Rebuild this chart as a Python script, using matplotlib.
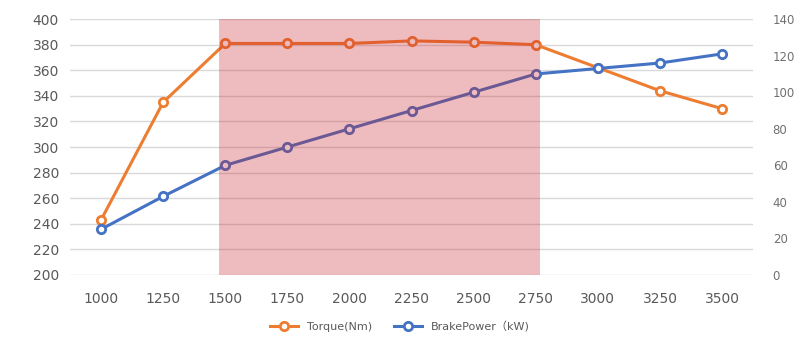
import numpy as np
import matplotlib.pyplot as plt

plt.rcParams['font.family'] = ['DejaVu Sans', 'Noto Sans CJK SC']

rpm = ['1000', '1250', '1500', '1750', '2000', '2250', '2500', '2750', '3000', '3250', '3500']
torque = [243, 335, 381, 381, 381, 383, 382, 380, 362, 344, 330]
power = [25, 43, 60, 70, 80, 90, 100, 110, 113, 116, 121]

orange = '#ED7D31'
blue = '#4472C4'
tick_col = '#595959'

fig = plt.figure(figsize=(8, 3.42), dpi=100)
ax = fig.add_axes([0.0875, 0.196, 0.854, 0.748])
ax2 = ax.twinx()

x = np.arange(len(rpm))

ax.plot(x, torque, '-o', color=orange, lw=2.2, ms=6, mfc='white', mew=2, zorder=3,
        label='Torque(Nm)')
ax2.plot(x, power, '-o', color=blue, lw=2.2, ms=6, mfc='white', mew=2, zorder=3,
         label='BrakePower（kW)')

ax.set_xlim(-0.5, len(rpm) - 0.5)
ax.set_ylim(200, 400)
ax.set_yticks(np.arange(200, 401, 20))
ax2.set_ylim(0, 140)
ax2.set_yticks(np.arange(0, 141, 20))

ax.set_xticks(x)
ax.set_xticklabels(rpm)
ax.grid(axis='y', color='#d9d9d9', lw=1)
ax.set_axisbelow(True)

for a in (ax, ax2):
    for s in a.spines.values():
        s.set_visible(False)
    a.tick_params(length=0, colors=tick_col, labelsize=10)
ax.tick_params(axis='x', pad=12)
ax.tick_params(axis='y', pad=8)
ax2.tick_params(axis='y', labelsize=8.5, pad=14, colors='#707070')

# shaded rpm band, drawn on top of the lines like the original
ax2.axvspan(1.9, 7.06, ymin=0, ymax=1, color='#C8202A', alpha=0.3, lw=0, zorder=5)

h1, l1 = ax.get_legend_handles_labels()
h2, l2 = ax2.get_legend_handles_labels()
fig.legend(h1 + h2, l1 + l2, loc='lower center', bbox_to_anchor=(0.5, 0.0), ncol=2,
           frameon=False, fontsize=8, labelcolor=tick_col, handlelength=2.5,
           columnspacing=2)

fig.savefig('out.png')
